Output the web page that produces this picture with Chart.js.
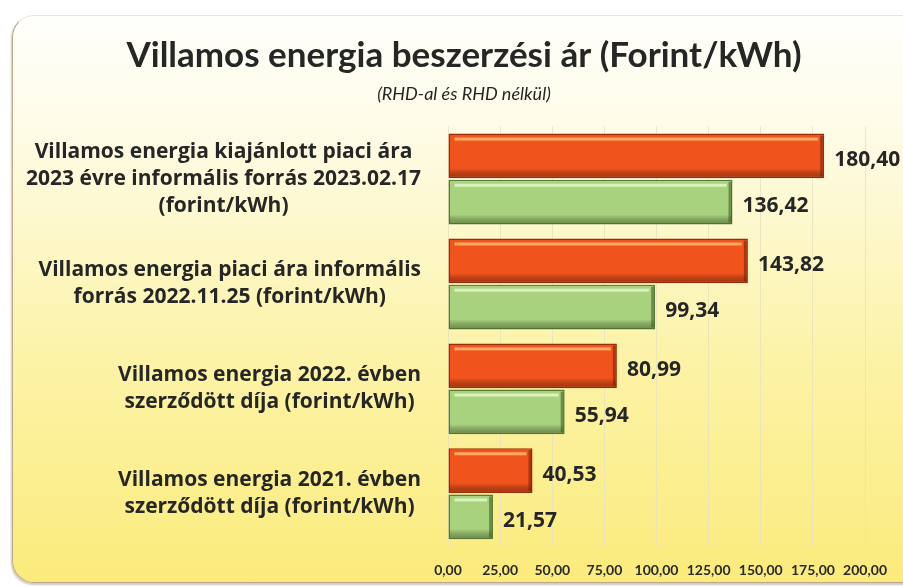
<!DOCTYPE html>
<html>
<head>
<meta charset="utf-8">
<script src="https://cdn.jsdelivr.net/npm/chart.js@4"></script>
<style>
  html, body { margin: 0; padding: 0; background: #fff; }
  #wrap { position: relative; width: 903px; height: 587px; overflow: hidden; }
  #card {
    position: absolute; left: 12px; top: 15px; width: 1000px; height: 566px;
    border-radius: 22px; border: 1.5px solid #b9a98c; border-top-color: #e8e6dc;
    box-shadow: -1px 2px 2px rgba(120,100,70,0.35);
    background: linear-gradient(to bottom, #fffffb 0%, #fefbe4 22%, #fcf3a8 60%, #fbeb7c 100%);
  }
  canvas { position: absolute; left: 0; top: 0; }
</style>
</head>
<body>
<div id="wrap">
  <div id="card"></div>
  <canvas id="chart" width="903" height="587"></canvas>
</div>
<script>
// kategóriák (felülről lefelé)
const categories = [
    ['Villamos energia kiajánlott piaci ára', '2023 évre informális forrás 2023.02.17', '(forint/kWh)'],
    ['Villamos energia piaci ára informális', 'forrás 2022.11.25 (forint/kWh)'],
    ['Villamos energia 2022. évben', 'szerződött díja (forint/kWh)'],
    ['Villamos energia 2021. évben', 'szerződött díja (forint/kWh)']
];

// RHD-val (piros) és RHD nélkül (zöld)
const withRhd = [180.40, 143.82, 80.99, 40.53];
const withoutRhd = [136.42, 99.34, 55.94, 21.57];

const xTicks = [0, 25, 50, 75, 100, 125, 150, 175, 200];

const titleText = 'Villamos energia beszerzési ár (Forint/kWh)';
const subtitleText = '(RHD-al és RHD nélkül)';

const fmt = v => v.toFixed(2).replace('.', ',');
const FONT = 'Lato, "Open Sans", sans-serif';
const LABEL_FONT = 'bold 21px "Open Sans", Lato, sans-serif';

// kategória feliratok: minden blokk középre zárt, jobb széle a tengely mellett
const categoryLabels = {
    id: 'categoryLabels',
    afterDraw(chart) {
        const ctx = chart.ctx;
        const y = chart.scales.y;
        const right = chart.chartArea.left - 27;
        const lh = 27;
        ctx.save();
        ctx.font = LABEL_FONT;
        ctx.fillStyle = '#262626';
        ctx.textAlign = 'center';
        ctx.textBaseline = 'middle';
        categories.forEach((lines, i) => {
            const w = Math.max(...lines.map(l => ctx.measureText(l).width));
            const cx = right - w / 2;
            const cy = y.getPixelForValue(i);
            const top = cy - (lines.length - 1) * lh / 2;
            lines.forEach((l, k) => ctx.fillText(l, cx, top + k * lh));
        });
        ctx.restore();
    }
};

// domború hatás a sávokon + értékfeliratok
const barBevel = {
    id: 'barBevel',
    afterDatasetsDraw(chart) {
        const ctx = chart.ctx;
        ctx.save();
        chart.data.datasets.forEach((ds, di) => {
            const meta = chart.getDatasetMeta(di);
            meta.data.forEach((bar, i) => {
                const p = bar.getProps(['x', 'y', 'base', 'height'], true);
                const x0 = p.base, x1 = p.x, t = p.y - p.height / 2, b = p.y + p.height / 2;
                // felső fény
                ctx.fillStyle = ds.lightColor;
                ctx.fillRect(x0 + 6, t + 4, x1 - x0 - 12, 3);
                // alsó árnyék
                const g = ctx.createLinearGradient(0, b - 10, 0, b);
                g.addColorStop(0, 'rgba(0,0,0,0)');
                g.addColorStop(1, ds.shadeColor);
                ctx.fillStyle = g;
                ctx.fillRect(x0 + 1, b - 10, x1 - x0 - 2, 9);
                // jobb oldali árnyék
                ctx.fillStyle = ds.shadeColor;
                ctx.fillRect(x1 - 4, t + 2, 3, b - t - 4);
                // érték
                ctx.font = LABEL_FONT;
                ctx.fillStyle = '#262626';
                ctx.textAlign = 'left';
                ctx.textBaseline = 'middle';
                ctx.fillText(fmt(ds.data[i]), x1 + 10, p.y + 4);
            });
        });
        ctx.restore();
    }
};

new Chart(document.getElementById('chart').getContext('2d'), {
    type: 'bar',
    data: {
        labels: categories,
        datasets: [
            {
                label: 'RHD-val', data: withRhd,
                backgroundColor: '#f0541c', borderColor: '#9a2e0c', borderWidth: 1.5, borderSkipped: false,
                lightColor: 'rgba(255,190,120,0.8)', shadeColor: 'rgba(130,30,5,0.6)',
                barPercentage: 0.97, categoryPercentage: 0.88
            },
            {
                label: 'RHD nélkül', data: withoutRhd,
                backgroundColor: '#a8d27e', borderColor: '#5a7a38', borderWidth: 1.5, borderSkipped: false,
                lightColor: 'rgba(225,245,195,0.9)', shadeColor: 'rgba(60,90,30,0.55)',
                barPercentage: 0.97, categoryPercentage: 0.88
            }
        ]
    },
    options: {
        indexAxis: 'y',
        responsive: false,
        animation: false,
        layout: { padding: { left: 54, right: 29, top: 0, bottom: -8 } },
        plugins: {
            legend: { display: false },
            tooltip: { enabled: false },
            title: {
                display: true, text: titleText, color: '#262626',
                font: { family: FONT, size: 35, weight: 'bold' },
                padding: { top: 35, bottom: 4 }
            },
            subtitle: {
                display: true, text: subtitleText, color: '#262626',
                font: { family: FONT, size: 18, weight: 'normal', style: 'italic' },
                padding: { top: 2, bottom: 22 }
            }
        },
        scales: {
            x: {
                min: 0, max: 200,
                afterBuildTicks: s => { s.ticks = xTicks.map(v => ({ value: v })); },
                grid: { color: 'rgba(232,226,192,0.85)', drawTicks: false },
                border: { display: false },
                ticks: {
                    color: '#2a2a2a', padding: 16,
                    font: { family: FONT, size: 14, weight: 'bold' },
                    callback: v => fmt(v)
                }
            },
            y: {
                grid: { display: false },
                border: { display: false },
                ticks: { display: false },
                afterFit: s => { s.width = 394; }
            }
        }
    },
    plugins: [categoryLabels, barBevel]
});
</script>
</body>
</html>
